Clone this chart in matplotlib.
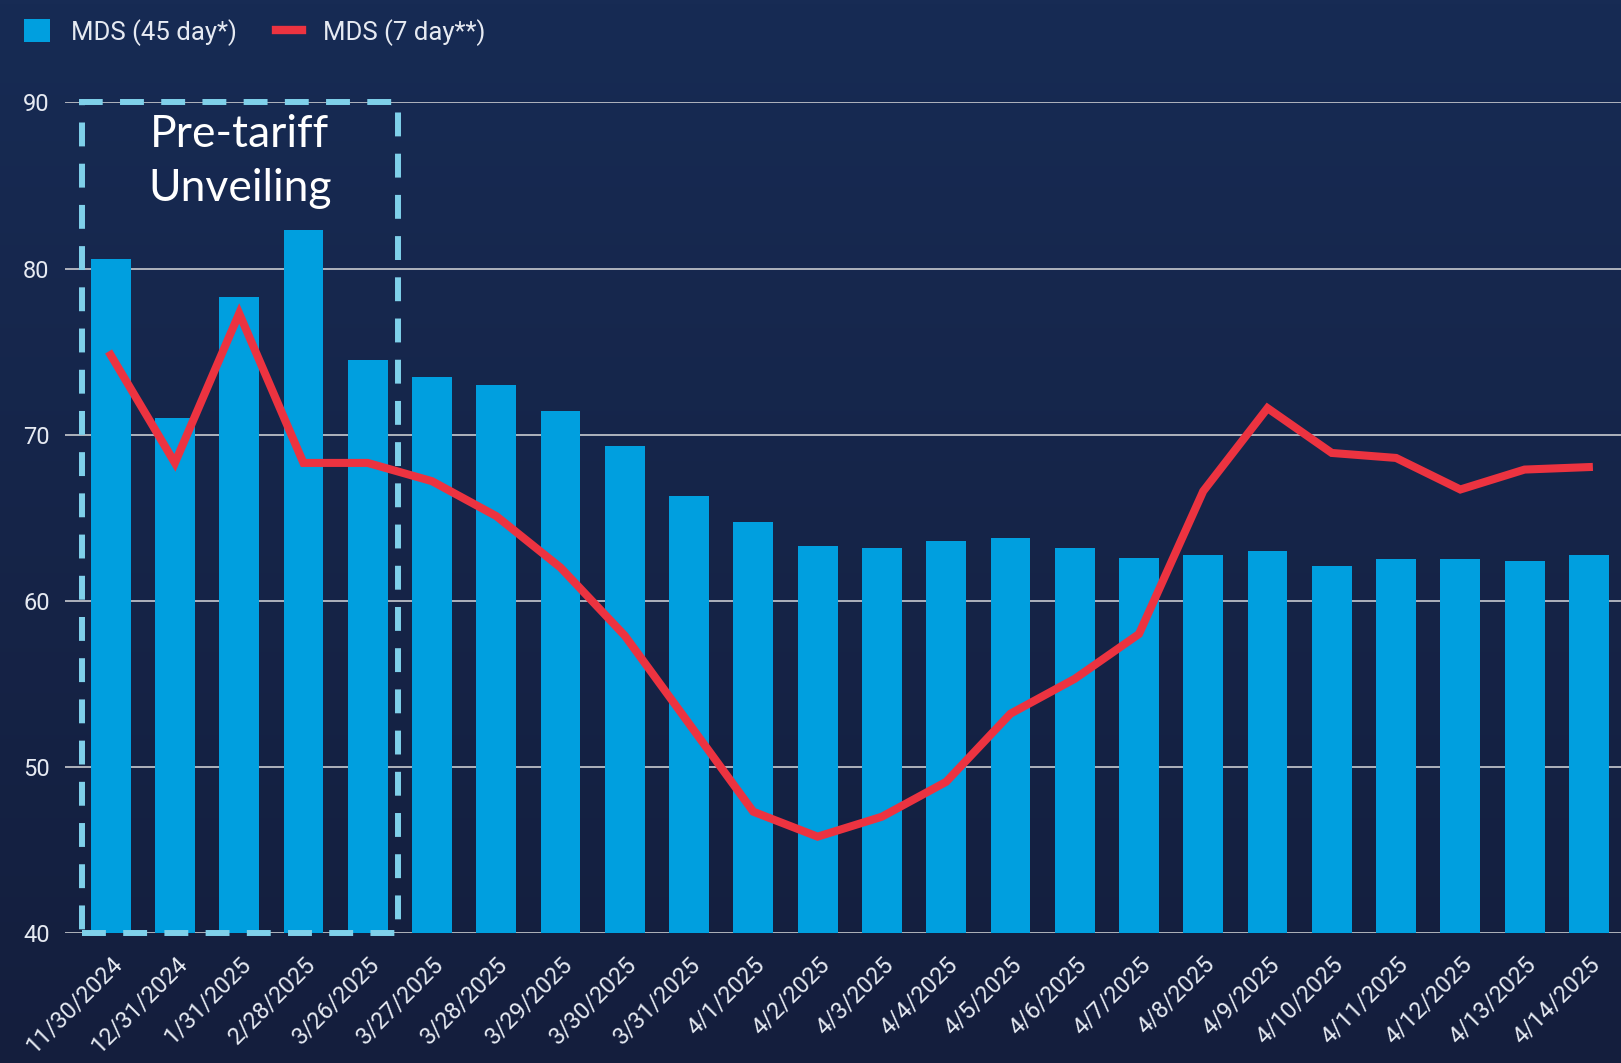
import numpy as np
import matplotlib
matplotlib.use("Agg")
import matplotlib.pyplot as plt
from matplotlib.patches import Patch, Rectangle
from matplotlib.lines import Line2D

# Data
dates = ["11/30/2024", "12/31/2024", "1/31/2025", "2/28/2025", "3/26/2025",
         "3/27/2025", "3/28/2025", "3/29/2025", "3/30/2025", "3/31/2025",
         "4/1/2025", "4/2/2025", "4/3/2025", "4/4/2025", "4/5/2025",
         "4/6/2025", "4/7/2025", "4/8/2025", "4/9/2025", "4/10/2025",
         "4/11/2025", "4/12/2025", "4/13/2025", "4/14/2025"]
mds_45 = [80.6, 71.0, 78.3, 82.3, 74.5, 73.5, 73.0, 71.4, 69.3, 66.3,
          64.75, 63.3, 63.2, 63.6, 63.75, 63.2, 62.6, 62.75, 63.0, 62.1,
          62.5, 62.5, 62.4, 62.75]
mds_7 = [74.8, 68.3, 77.3, 68.3, 68.3, 67.2, 65.1, 62.0, 57.9, 52.6,
         47.3, 45.8, 47.0, 49.1, 53.2, 55.3, 58.0, 66.6, 71.6, 68.9,
         68.6, 66.7, 67.9, 68.05]
y_ticks = [40, 50, 60, 70, 80, 90]
box_label = "Pre-tariff\nUnveiling"
pre_tariff_n = 5  # first five periods are in the pre-tariff box

bar_color = "#009fdf"
line_color = "#ec3340"
box_color = "#7fd0ea"
text_color = "#e6eaf2"
grid_color = "#c9cbd0"

plt.rcParams['font.family'] = ['Roboto', 'DejaVu Sans']

fig = plt.figure(figsize=(16.21, 10.63), dpi=100)

# gradient background
bg = fig.add_axes([0, 0, 1, 1], zorder=-10)
grad = np.linspace(0, 1, 256).reshape(-1, 1)
top = np.array([23, 43, 84]) / 255
bottom = np.array([20, 30, 61]) / 255
img = top[None, None, :] * (1 - grad[:, :, None]) + bottom[None, None, :] * grad[:, :, None]
bg.imshow(img, aspect='auto', extent=[0, 1, 0, 1])
bg.axis('off')

ax = fig.add_axes([0.0401, 0.1223, 0.9599, 0.7813])
ax.patch.set_alpha(0)
x = np.arange(len(dates))

ax.bar(x, [v - 40 for v in mds_45], bottom=40, width=0.62, color=bar_color, zorder=2)
ax.plot(x, mds_7, color=line_color, lw=5.8, zorder=3, solid_joinstyle='miter')

ax.set_xlim(-0.71, 23.5)
ax.set_ylim(40, 90)
ax.set_yticks(y_ticks)
ax.yaxis.grid(True, color=grid_color, lw=1.2, zorder=1)
ax.set_axisbelow(True)
for s in ax.spines.values():
    s.set_visible(False)
ax.tick_params(axis='both', length=0, labelcolor=text_color, labelsize=17)
ax.tick_params(axis='y', pad=11)
ax.set_xticks(x)
ax.set_xticklabels(dates, rotation=45, ha='right', va='top', rotation_mode='anchor')
ax.tick_params(axis='x', pad=14)

# dashed pre-tariff box
box = Rectangle((-0.45, 40), pre_tariff_n - 0.08, 50, fill=False, edgecolor=box_color,
                lw=4.3, linestyle=(0, (4.0, 2.9)), clip_on=False, zorder=4)
ax.add_patch(box)
ax.text(-0.45 + (pre_tariff_n - 0.08) / 2, 89.3, box_label, ha='center', va='top',
        fontsize=32, color='white', family=['Lato', 'DejaVu Sans'],
        linespacing=1.4, zorder=5)

handles = [Patch(facecolor=bar_color, edgecolor='none'),
           Line2D([0], [0], color=line_color, lw=6)]
fig.legend(handles, ["MDS (45 day*)", "MDS (7 day**)"], loc='upper left',
           bbox_to_anchor=(0.0005, 1.004), ncol=2, frameon=False, fontsize=18.5,
           labelcolor=text_color, handlelength=1.0, handleheight=1.0,
           handletextpad=0.85, columnspacing=1.5)

fig.savefig("out.png", dpi=100)
